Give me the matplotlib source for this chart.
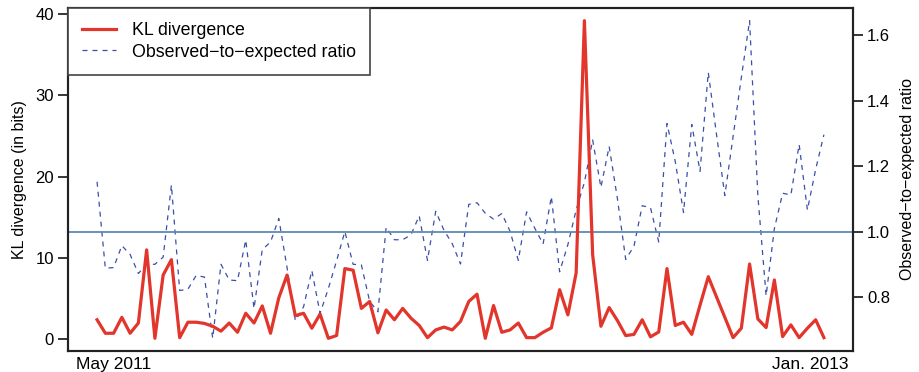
import numpy as np
import matplotlib
matplotlib.use("Agg")
import matplotlib.pyplot as plt

plt.rcParams['font.family'] = ['Liberation Sans', 'DejaVu Sans']

# weekly values
kl = [2.4, 0.74, 0.74, 2.7, 0.74, 2.0, 11.0, 0.12, 7.9, 9.8,
      0.2, 2.1, 2.1, 1.95, 1.6, 1.0, 2.0, 0.86, 3.2, 2.0,
      4.1, 0.74, 5.1, 7.9, 2.9, 3.2, 1.36, 3.1, 0.12, 0.46,
      8.7, 8.5, 3.8, 4.65, 0.8, 3.6, 2.4, 3.8, 2.6, 1.7,
      0.2, 1.15, 1.5, 1.15, 2.2, 4.65, 5.55, 0.12, 4.15, 0.86,
      1.15, 2.0, 0.2, 0.2, 0.86, 1.4, 6.1, 3.0, 8.15, 39.2,
      10.4, 1.6, 3.9, 2.3, 0.45, 0.6, 2.4, 0.3, 0.9, 8.7,
      1.7, 2.1, 0.6, 4.2, 7.7, 5.2, 2.7, 0.2, 1.36, 9.26,
      2.5, 1.44, 7.3, 0.33, 1.77, 0.2, 1.36, 2.4, 0.2]

ratio = [1.152, 0.888, 0.89, 0.957, 0.93, 0.872, 0.90, 0.90, 0.922, 1.142,
         0.82, 0.824, 0.866, 0.861, 0.674, 0.90, 0.852, 0.85, 0.974, 0.765,
         0.945, 0.968, 1.04, 0.89, 0.728, 0.77, 0.881, 0.75, 0.826, 0.911,
         1.0, 0.90, 0.898, 0.787, 0.755, 1.013, 0.975, 0.975, 0.99, 1.048,
         0.912, 1.062, 1.004, 0.963, 0.901, 1.083, 1.088, 1.056, 1.038, 1.055,
         1.001, 0.912, 1.06, 1.01, 0.962, 1.107, 0.877, 0.96, 1.066, 1.15,
         1.28, 1.135, 1.26, 1.10, 0.915, 0.955, 1.079, 1.073, 0.968, 1.33,
         1.214, 1.058, 1.327, 1.184, 1.486, 1.296, 1.11, 1.29, 1.47, 1.644,
         1.11, 0.804, 1.009, 1.117, 1.112, 1.266, 1.066, 1.19, 1.296]

week = np.arange(1, len(kl) + 1)
xtick_pos = [3, 87.3]
xtick_lab = ["May 2011", "Jan. 2013"]
left_ticks = [0, 10, 20, 30, 40]
right_ticks = [0.8, 1.0, 1.2, 1.4, 1.6]

fig = plt.figure(figsize=(9.19, 3.72), dpi=100)
ax = fig.add_axes([68/919, 21/372, (853-68)/919, (351-8)/372])
ax2 = ax.twinx()

red, blue = "#E2352B", "#3B4FA8"

l2, = ax2.plot(week, ratio, color=blue, lw=0.9, ls=(0, (4, 4)))
ax2.axhline(1.0, color="#5D8AB4", lw=1.3)
l1, = ax.plot(week, kl, color=red, lw=2.3)

# red line above the ratio axis
ax.set_zorder(ax2.get_zorder() + 1)
ax.patch.set_visible(False)

ax.margins(x=0.04, y=0.04)
ax2.margins(y=0.04)

ax.set_yticks(left_ticks)
ax2.set_yticks(right_ticks)
ax2.set_yticklabels(["0.8", "1.0", "1.2", "1.4", "1.6"])
ax.set_xticks(xtick_pos)
ax.set_xticklabels(xtick_lab)
ax.tick_params(axis='x', length=0, pad=4, labelsize=12.5)
ax.tick_params(axis='y', length=7, width=1.1, labelsize=12, pad=3)
ax2.tick_params(axis='y', length=7, width=1.1, labelsize=12, pad=3)

for a in (ax, ax2):
    for s in a.spines.values():
        s.set_linewidth(1.5)
        s.set_color("#222222")

ax.set_ylabel("KL divergence (in bits)", fontsize=11.5, labelpad=6)
ax2.set_ylabel("Observed\u2212to\u2212expected ratio", fontsize=11.5, labelpad=7)

leg = ax.legend([l1, l2], ["KL divergence", "Observed\u2212to\u2212expected ratio"],
                loc="upper left", bbox_to_anchor=(0, 1), borderaxespad=0,
                fancybox=False, framealpha=1, edgecolor="#444444",
                fontsize=12.8, handlelength=1.9, handletextpad=0.9,
                labelspacing=0.25, borderpad=0.8)
leg.get_frame().set_linewidth(1.2)

fig.savefig("out.png", dpi=100)
